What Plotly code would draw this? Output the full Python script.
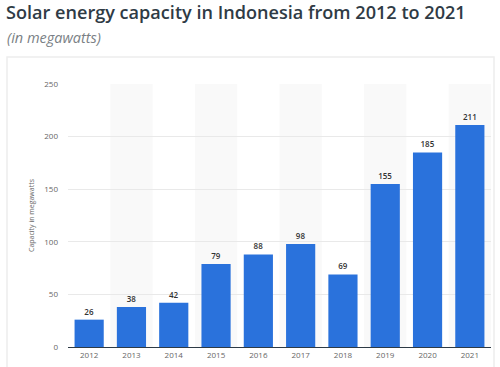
import plotly.graph_objects as go

years = ["2012", "2013", "2014", "2015", "2016", "2017", "2018", "2019", "2020", "2021"]
capacity = [26, 38, 42, 79, 88, 98, 69, 155, 185, 211]
y_ticks = [0, 50, 100, 150, 200, 250]

title_text = "Solar energy capacity in Indonesia from 2012 to 2021"
subtitle_text = "(in megawatts)"
y_title = "Capacity in megawatts"

W, H = 500, 367
L, R, T, B = 68, 9, 84, 19.5
pw = W - L - R
ph = H - T - B

def px_x(x):
    return (x - L) / pw

def px_y(y):
    return (H - B - y) / ph

fig = go.Figure()
fig.add_trace(go.Bar(
    x=years, y=capacity,
    marker=dict(color="#2a72dc", line=dict(width=0)),
    text=[str(v) for v in capacity],
    textposition="outside",
    textfont=dict(family="Open Sans", size=8, color="#333333", weight=600),
    cliponaxis=False,
    hoverinfo="x+y",
))

shapes = []
# alternating column shading
for i, _ in enumerate(years):
    if i % 2 == 1:
        shapes.append(dict(type="rect", xref="x", yref="paper",
                           x0=i - 0.5, x1=i + 0.5, y0=0, y1=1,
                           fillcolor="#f9f9f9", line=dict(width=0), layer="below"))
# card outline
shapes.append(dict(type="rect", xref="paper", yref="paper",
                   x0=px_x(7), x1=px_x(494), y0=px_y(372), y1=px_y(57),
                   fillcolor="rgba(0,0,0,0)", line=dict(color="#ededed", width=1.5),
                   layer="below"))

fig.update_layout(
    width=W, height=H,
    margin=dict(l=L, r=R, t=T, b=B, autoexpand=False),
    paper_bgcolor="white", plot_bgcolor="white",
    showlegend=False,
    bargap=0.31,
    shapes=shapes,
    title=dict(text=title_text, xref="container", yref="container",
               x=6 / W, xanchor="left", y=1 - 13 / H, yanchor="middle",
               font=dict(family="Open Sans", size=18.1, color="#2f3b45", weight=600)),
    annotations=[dict(text="<i>" + subtitle_text + "</i>", xref="paper", yref="paper",
                      x=px_x(5), y=px_y(37), xanchor="left", yanchor="middle",
                      showarrow=False,
                      font=dict(family="Open Sans", size=14.5, color="#7a7f85"))],
    xaxis=dict(type="category", showgrid=False, ticks="", showline=True,
               linecolor="#2d3a45", linewidth=1.2, automargin=False,
               tickfont=dict(family="Open Sans", size=8, color="#666666")),
    yaxis=dict(range=[0, 250], tickvals=y_ticks, showgrid=True, gridcolor="#e9e9e9",
               gridwidth=1, zeroline=False, showline=False, ticks="",
               ticklabelstandoff=9, automargin=False,
               tickfont=dict(family="Open Sans", size=8, color="#666666"),
               title=dict(text=y_title, standoff=8,
                          font=dict(family="Open Sans", size=7, color="#666666"))),
)

fig.write_html("out.html", config={"displayModeBar": False},
               post_script="document.body.style.margin='0';")
